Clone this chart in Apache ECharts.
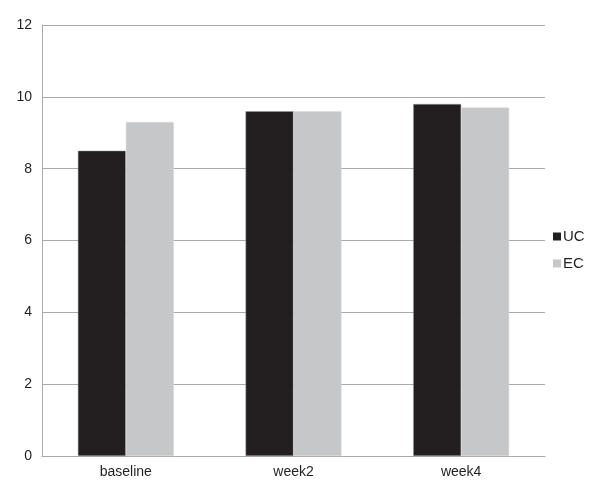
<!DOCTYPE html>
<html><head><meta charset="utf-8">
<script src="https://cdn.jsdelivr.net/npm/echarts@6/dist/echarts.min.js"></script>
<style>html,body{margin:0;padding:0;background:#fff}#c{width:590px;height:483px}</style>
</head><body><div id="c"></div>
<script>
const categories = ['baseline', 'week2', 'week4'];
const ucValues = [8.5, 9.6, 9.8];
const ecValues = [9.3, 9.6, 9.7];
const yTicks = [0, 2, 4, 6, 8, 10, 12];

const chart = echarts.init(document.getElementById('c'), null, {renderer: 'canvas'});
const font = 'Liberation Sans, Arial, sans-serif';
chart.setOption({
  animation: false,
  backgroundColor: '#fff',
  grid: {left: 42, right: 45, top: 25, bottom: 27, containLabel: false},
  legend: {
    orient: 'vertical', left: 548, top: 224,
    itemWidth: 8, itemHeight: 8, itemGap: 12, icon: 'rect',
    itemStyle: {borderWidth: 0},
    textStyle: {fontFamily: font, fontSize: 15, color: '#231f20', padding: [0,0,0,-3]},
    data: ['UC', 'EC']
  },
  xAxis: {
    type: 'category', data: categories,
    axisLine: {show: true, lineStyle: {color: '#a7a9ac', width: 1}},
    axisTick: {show: false},
    axisLabel: {fontFamily: font, fontSize: 14, color: '#231f20', margin: 9}
  },
  yAxis: {
    type: 'value', min: yTicks[0], max: yTicks[yTicks.length-1], interval: 2,
    axisLine: {show: true, lineStyle: {color: '#a7a9ac', width: 1}},
    axisTick: {show: false},
    splitLine: {show: true, lineStyle: {color: '#a7a9ac', width: 1}},
    axisLabel: {fontFamily: font, fontSize: 14, color: '#231f20', margin: 10}
  },
  series: [
    {name: 'UC', type: 'bar', data: ucValues, barWidth: '28.6%', barGap: '0%',
     itemStyle: {color: '#231f20', borderColor: '#9a9a9a', borderWidth: 0.5}},
    {name: 'EC', type: 'bar', data: ecValues, barWidth: '28.6%',
     itemStyle: {color: '#c6c7c8', borderColor: '#d8d8d8', borderWidth: 0.5}}
  ]
});
</script></body></html>
